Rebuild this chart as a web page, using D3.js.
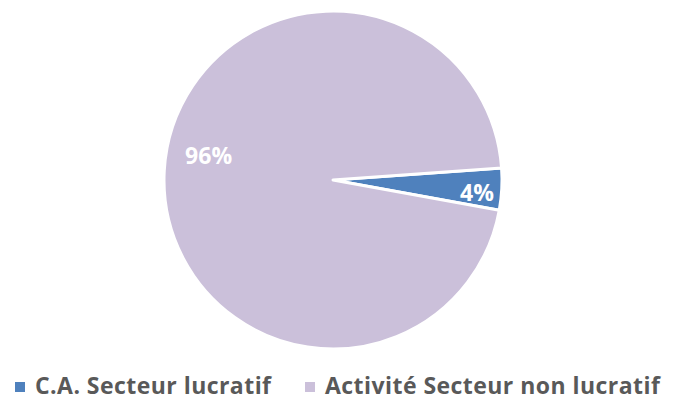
<!DOCTYPE html>
<meta charset="utf-8">
<script src="https://d3js.org/d3.v7.min.js"></script>
<style>
  body { margin: 0; background: #fff; }
  text { font-family: "Open Sans", "Noto Sans", sans-serif; }
</style>
<div id="chart"></div>
<script>

// data
var categories = ["C.A. Secteur lucratif", "Activité Secteur non lucratif"];
var values = [4, 96];
var labels = ["4%", "96%"];
var colors = ["#4f81bd", "#cbc0da"];

var width = 681, height = 401;
var cx = 333, cy = 180, radius = 169;

var svg = d3.select("#chart")
  .append("svg")
    .attr("width", width)
    .attr("height", height);

var data = categories.map(function(c, i) {
  return {name: c, value: values[i], label: labels[i], color: colors[i]};
});

// first slice starts a little before 3 o'clock
var startAngle = 85.9 * Math.PI / 180;
var pie = d3.pie()
  .sort(null)
  .value(function(d) { return d.value; })
  .startAngle(startAngle)
  .endAngle(startAngle + 2 * Math.PI);

var arcs = pie(data);

var arc = d3.arc().innerRadius(0).outerRadius(radius);

var g = svg.append("g")
  .attr("transform", "translate(" + cx + "," + cy + ")");

g.selectAll("path")
  .data(arcs)
  .enter()
  .append("path")
    .attr("d", arc)
    .attr("fill", function(d) { return d.data.color; })
    .attr("stroke", "#fff")
    .attr("stroke-width", 3)
    .attr("stroke-linejoin", "round");

// data labels (radius and small angle shift tuned per slice)
var labelRadius = [0.855 * radius, 0.75 * radius];
var labelShift = [2, 8];
g.selectAll("text.lbl")
  .data(arcs)
  .enter()
  .append("text")
    .attr("class", "lbl")
    .attr("x", function(d, i) {
      var a = (d.startAngle + d.endAngle) / 2 + labelShift[i] * Math.PI / 180;
      return labelRadius[i] * Math.sin(a);
    })
    .attr("y", function(d, i) {
      var a = (d.startAngle + d.endAngle) / 2 + labelShift[i] * Math.PI / 180;
      return -labelRadius[i] * Math.cos(a);
    })
    .attr("dy", "0.35em")
    .attr("text-anchor", "middle")
    .attr("fill", "#fff")
    .attr("font-size", "23px")
    .attr("font-weight", "bold")
    .text(function(d) { return d.data.label; });

// legend
var legendX = [15, 305];
var legend = svg.selectAll("g.legend")
  .data(data)
  .enter()
  .append("g")
    .attr("class", "legend")
    .attr("transform", function(d, i) { return "translate(" + legendX[i] + ",386)"; });

legend.append("rect")
  .attr("x", 0)
  .attr("y", -4)
  .attr("width", 10)
  .attr("height", 10)
  .attr("fill", function(d) { return d.color; });

legend.append("text")
  .attr("x", 20)
  .attr("y", 8)
  .attr("fill", "#595959")
  .attr("font-size", "23px")
  .attr("font-weight", "bold")
  .attr("letter-spacing", "0.45px")
  .text(function(d) { return d.name; });

</script>
